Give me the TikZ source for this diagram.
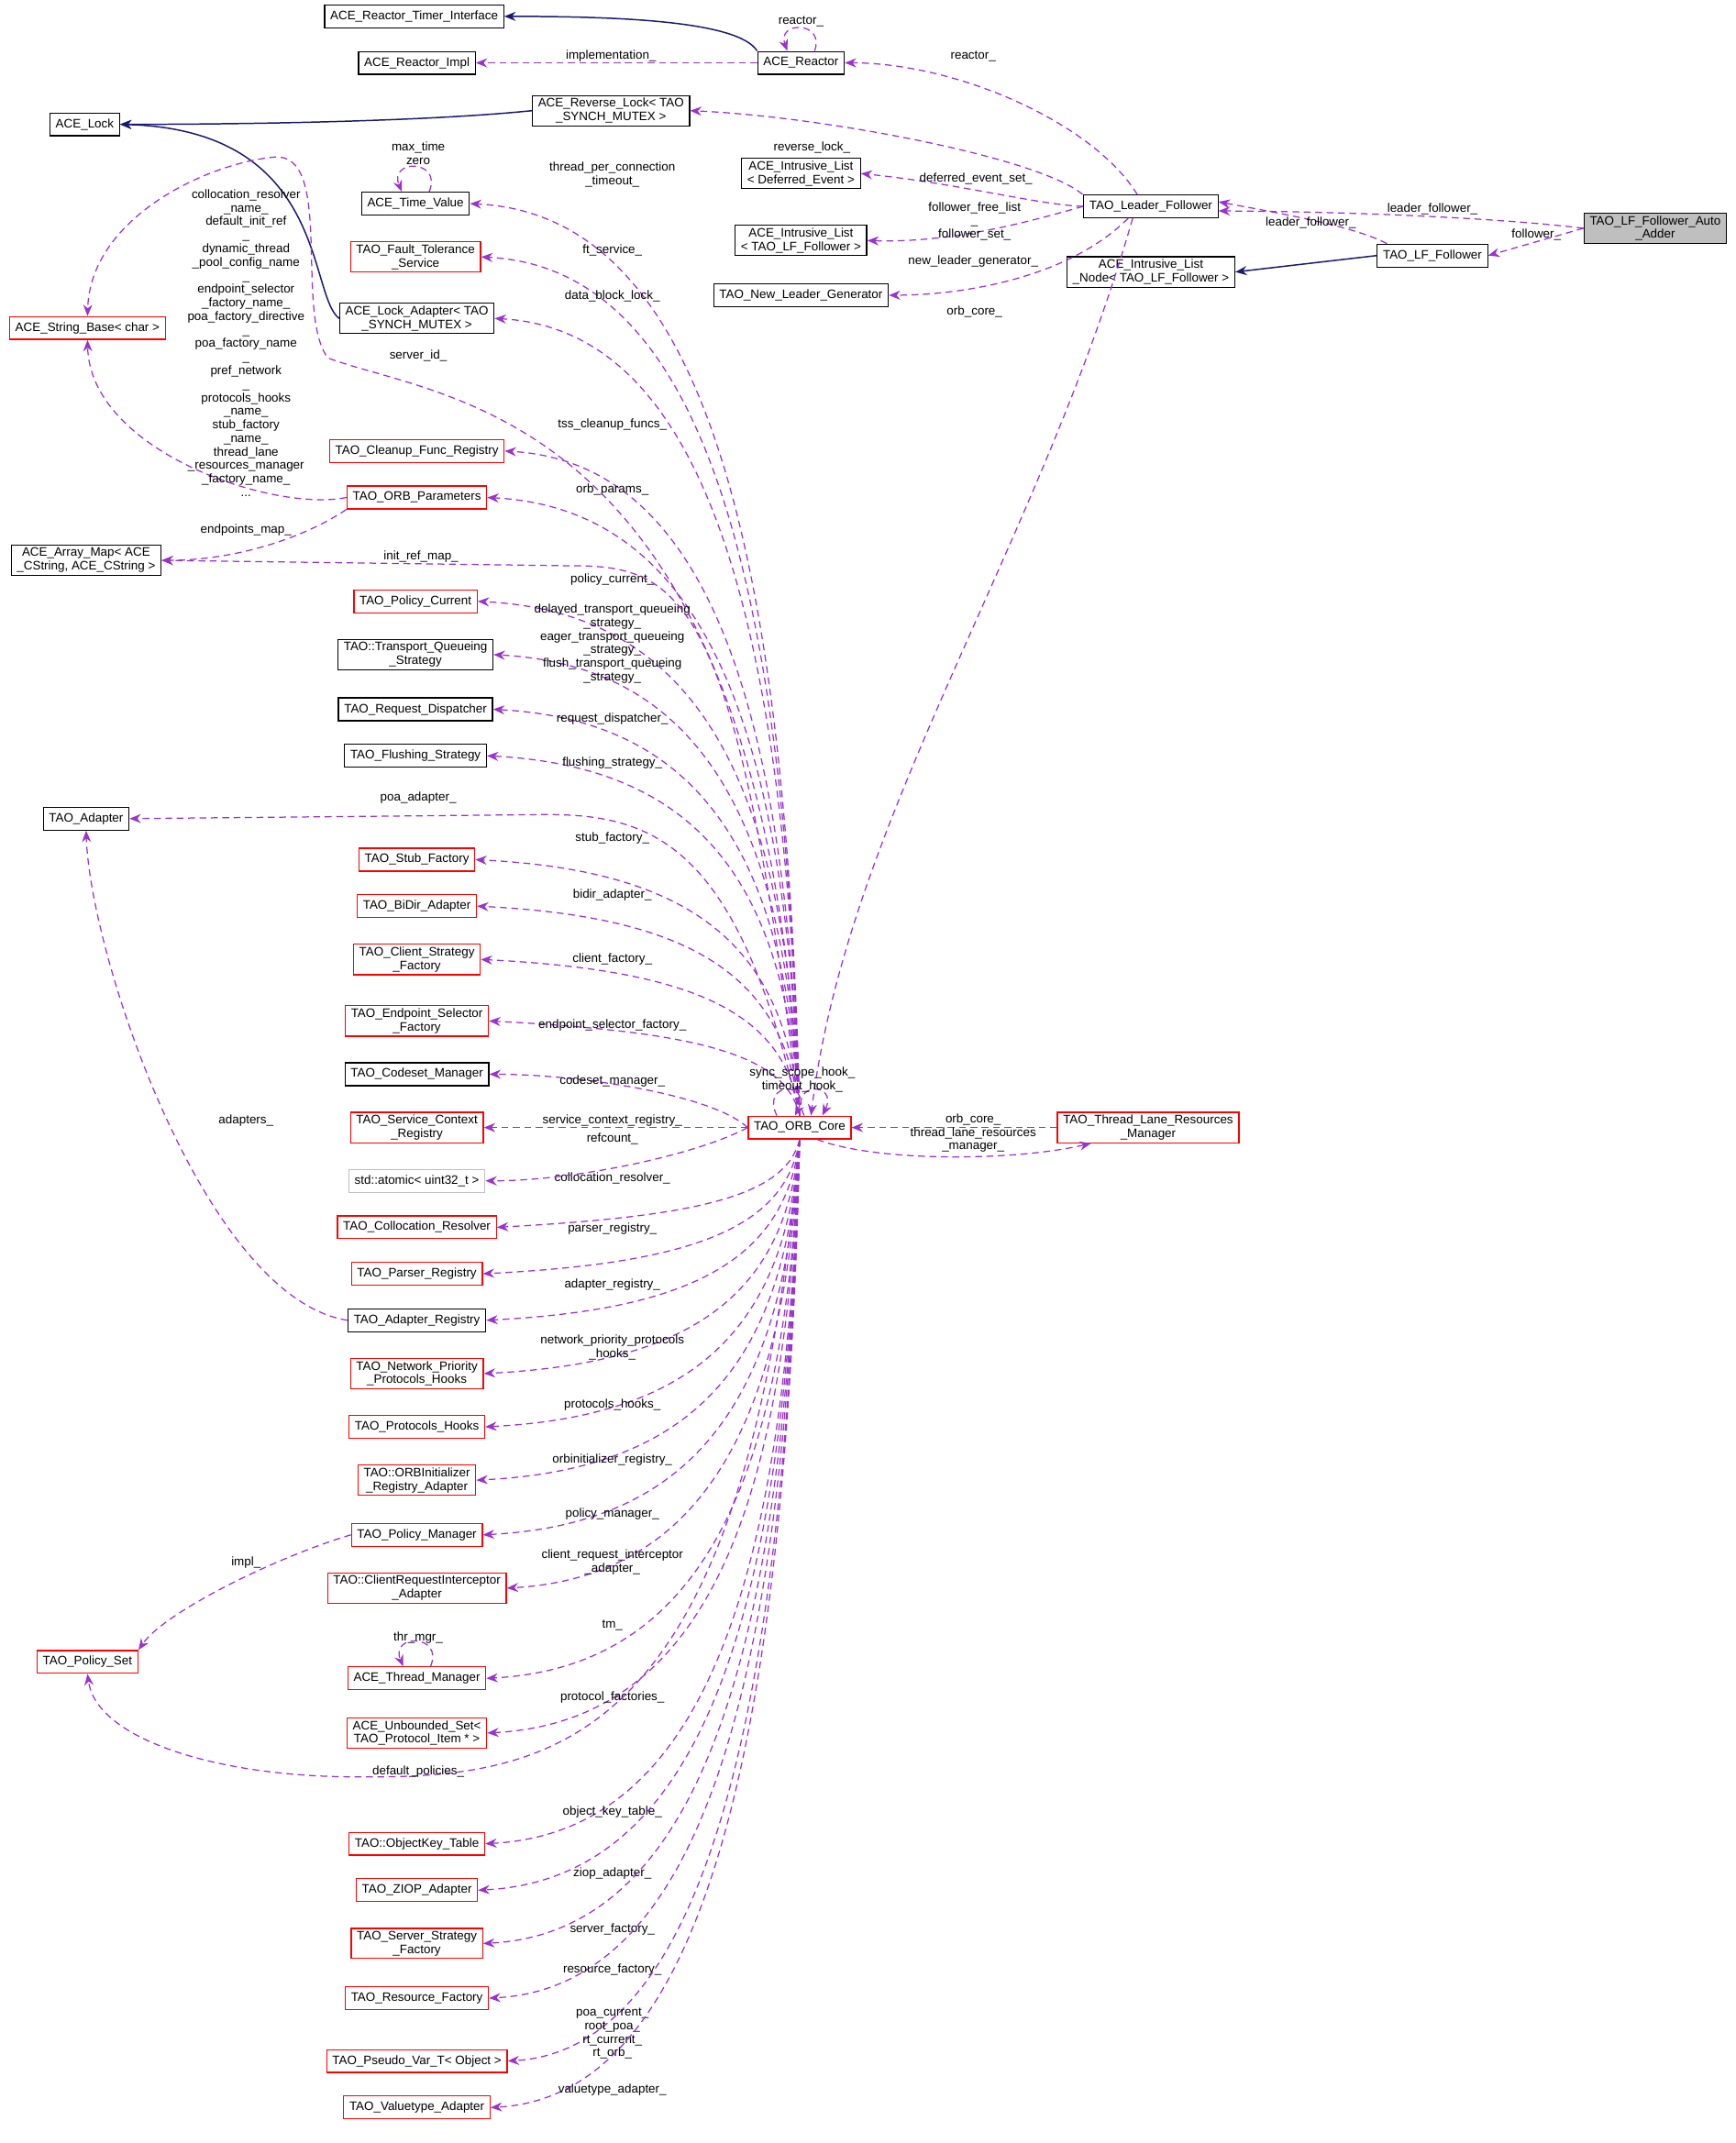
\documentclass[tikz,border=0pt]{standalone}
\usepackage{fontspec}
\setmainfont{Liberation Sans}
\usetikzlibrary{arrows.meta}
\definecolor{depcol}{HTML}{9A32CD}
\definecolor{inhcol}{HTML}{191970}
\newcommand\dfont{\fontsize{5.4}{5.95}\selectfont}
\tikzset{cls/.style={draw=black,fill=white,inner xsep=2.5pt,inner ysep=1.2pt,
		minimum height=10pt,align=center,font=\dfont,line width=0.5pt},
	redcls/.style={cls,draw=red},
	greycls/.style={cls,draw=black!25},
	dep/.style={draw=depcol,dash pattern=on 3pt off 2pt,line width=0.5pt,
		-{Stealth[length=5pt,width=4pt,fill=depcol]}},
	inh/.style={draw=inhcol,line width=0.6pt,-{Stealth[length=5pt,width=4pt]}},
	lbl/.style={font=\dfont,align=center,inner sep=0.5pt}}
\begin{document}
\catcode`\_=12
\begin{tikzpicture}[x=0.6pt,y=-0.6pt]
	\useasboundingbox (0,0) rectangle (1270,1568);
	% classes
	\node[cls] (rti) at (303,12) {ACE_Reactor_Timer_Interface};
	\node[cls] (rimpl) at (305,46) {ACE_Reactor_Impl};
	\node[cls] (reactor) at (586,46) {ACE_Reactor};
	\node[cls] (lock) at (62,91) {ACE_Lock};
	\node[cls] (rlock) at (447,81) {ACE_Reverse_Lock< TAO\\_SYNCH_MUTEX >};
	\node[cls] (tv) at (304,149) {ACE_Time_Value};
	\node[cls] (ilde) at (586,127) {ACE_Intrusive_List\\< Deferred_Event >};
	\node[cls] (illf) at (586,176) {ACE_Intrusive_List\\< TAO_LF_Follower >};
	\node[cls] (nlg) at (586,216) {TAO_New_Leader_Generator};
	\node[cls] (lf) at (842,151) {TAO_Leader_Follower};
	\node[cls,fill=black!25] (adder) at (1211,167) {TAO_LF_Follower_Auto\\_Adder};
	\node[cls] (lff) at (1048,187) {TAO_LF_Follower};
	\node[cls] (iln) at (842,199) {ACE_Intrusive_List\\_Node< TAO_LF_Follower >};
	\node[redcls] (fts) at (304,188) {TAO_Fault_Tolerance\\_Service};
	\node[cls] (lad) at (305,233) {ACE_Lock_Adapter< TAO\\_SYNCH_MUTEX >};
	\node[redcls] (strb) at (64,240) {ACE_String_Base< char >};
	\node[redcls] (cfr) at (305,330) {TAO_Cleanup_Func_Registry};
	\node[redcls] (orbp) at (305,364) {TAO_ORB_Parameters};
	\node[cls] (amap) at (63,410) {ACE_Array_Map< ACE\\_CString, ACE_CString >};
	\node[redcls] (pcur) at (304,440) {TAO_Policy_Current};
	\node[cls] (tqs) at (304,479) {TAO::Transport_Queueing\\_Strategy};
	\node[cls] (rdis) at (304,519) {TAO_Request_Dispatcher};
	\node[cls] (fls) at (304,553) {TAO_Flushing_Strategy};
	\node[cls] (adp) at (63,599) {TAO_Adapter};
	\node[redcls] (stf) at (305,629) {TAO_Stub_Factory};
	\node[redcls] (bidir) at (305,663) {TAO_BiDir_Adapter};
	\node[redcls] (csf) at (305,702) {TAO_Client_Strategy\\_Factory};
	\node[redcls] (esf) at (305,747) {TAO_Endpoint_Selector\\_Factory};
	\node[cls] (csm) at (305,786) {TAO_Codeset_Manager};
	\node[redcls] (scr) at (305,825) {TAO_Service_Context\\_Registry};
	\node[greycls] (atom) at (305,864) {std::atomic< uint32_t >};
	\node[redcls] (coll) at (305,898) {TAO_Collocation_Resolver};
	\node[redcls] (prs) at (305,932) {TAO_Parser_Registry};
	\node[cls] (areg) at (305,966) {TAO_Adapter_Registry};
	\node[redcls] (npph) at (305,1005) {TAO_Network_Priority\\_Protocols_Hooks};
	\node[redcls] (ph) at (305,1044) {TAO_Protocols_Hooks};
	\node[redcls] (oira) at (305,1083) {TAO::ORBInitializer\\_Registry_Adapter};
	\node[redcls] (pmgr) at (305,1123) {TAO_Policy_Manager};
	\node[redcls] (cria) at (305,1162) {TAO::ClientRequestInterceptor\\_Adapter};
	\node[redcls] (pset) at (64,1216) {TAO_Policy_Set};
	\node[redcls] (thm) at (305,1228) {ACE_Thread_Manager};
	\node[redcls] (uset) at (305,1268) {ACE_Unbounded_Set<\\TAO_Protocol_Item * >};
	\node[redcls] (okt) at (305,1349) {TAO::ObjectKey_Table};
	\node[redcls] (ziop) at (305,1383) {TAO_ZIOP_Adapter};
	\node[redcls] (ssf) at (305,1422) {TAO_Server_Strategy\\_Factory};
	\node[redcls] (rf) at (305,1462) {TAO_Resource_Factory};
	\node[redcls] (pvar) at (305,1508) {TAO_Pseudo_Var_T< Object >};
	\node[redcls] (vta) at (305,1542) {TAO_Valuetype_Adapter};
	\node[redcls] (orb) at (585,825) {TAO_ORB_Core};
	\node[redcls] (tlr) at (840,825) {TAO_Thread_Lane_Resources\\_Manager};
	% inheritance
	\draw[inh] (reactor.north west) .. controls (540,15) and (450,12) .. (rti.east);
	\draw[inh] (rlock.west) .. controls (300,90) and (150,91) .. (lock.east);
	\draw[inh] (lad.west) .. controls (225,215) and (240,95) .. (lock.east);
	\draw[inh] (lff.west) -- (iln.east);
	% Leader_Follower side
	\draw[dep] (reactor.west) -- (rimpl.east);
	\draw[dep] ([xshift=6pt]reactor.north) .. controls +(8,-22) and +(-8,-22) .. ([xshift=-6pt]reactor.north);
	\draw[dep] ([xshift=-6pt]lf.north) .. controls (800,90) and (700,46) .. (reactor.east);
	\draw[dep] ([xshift=-30pt]lf.north) .. controls (760,115) and (600,85) .. (rlock.east);
	\draw[dep] (lf.west) .. controls (760,150) and (700,134) .. (ilde.east);
	\draw[dep] (lf.west) .. controls (760,160) and (700,178) .. (illf.east);
	\draw[dep] ([xshift=-10pt]lf.south) .. controls (780,205) and (700,216) .. (nlg.east);
	\draw[dep] ([xshift=-8pt]lf.south) .. controls (760,400) and (620,600) .. ([xshift=5pt]orb.north);
	\draw[dep] (adder.west) .. controls (1100,160) and (1000,155) .. ([yshift=-2pt]lf.east);
	\draw[dep] (adder.west) -- (lff.east);
	\draw[dep] ([xshift=-20pt]lff.north) .. controls (990,165) and (930,155) .. ([yshift=2pt]lf.east);
	\node[lbl] (l_impl) at (447,41) {implementation_};
	\node[lbl] (l_rloop) at (586,16) {reactor_};
	\node[lbl] (l_react) at (712,41) {reactor_};
	\node[lbl] (l_rlock) at (594,108) {reverse_lock_};
	\node[lbl] (l_ilde) at (714,131) {deferred_event_set_};
	\node[lbl] (l_illf) at (713,162) {follower_free_list\\_\\follower_set_};
	\node[lbl] (l_nlg) at (712,191) {new_leader_generator_};
	\node[lbl] (l_lforb) at (713,228) {orb_core_};
	\node[lbl] (l_adlf) at (1048,153) {leader_follower_};
	\node[lbl] (l_adff) at (1124,172) {follower_};
	\node[lbl] (l_fflf) at (959,163) {leader_follower_};
	% ORB_Core uses, upper column
	\foreach \tn/\ty/\txt/\ly in {tv/149/{thread_per_connection\\_timeout_}/128,
		fts/188/{ft_service_}/183, lad/233/{data_block_lock_}/217,
		cfr/330/{tss_cleanup_funcs_}/311, orbp/364/{orb_params_}/358,
		pcur/440/{policy_current_}/424,
		tqs/479/{delayed_transport_queueing\\_strategy_\\eager_transport_queueing\\_strategy_\\flush_transport_queueing\\_strategy_}/471,
		rdis/519/{request_dispatcher_}/526, fls/553/{flushing_strategy_}/558,
		stf/629/{stub_factory_}/613, bidir/663/{bidir_adapter_}/655,
		csf/702/{client_factory_}/702, esf/747/{endpoint_selector_factory_}/750}
	{
		\draw[dep] (orb.north) .. controls (575,{\ty+0.35*(816-\ty)}) and (510,{\ty+8}) .. (\tn.east);
		\node[lbl] (l_\tn) at (448,\ly) {\txt};
	}
	% ORB_Core uses, lower column
	\foreach \tn/\ty/\txt/\ly in {coll/898/{collocation_resolver_}/862,
		prs/932/{parser_registry_}/899, areg/966/{adapter_registry_}/940,
		npph/1005/{network_priority_protocols\\_hooks_}/986, ph/1044/{protocols_hooks_}/1028,
		oira/1083/{orbinitializer_registry_}/1068, pmgr/1123/{policy_manager_}/1108,
		cria/1162/{client_request_interceptor\\_adapter_}/1143, thm/1228/{tm_}/1189,
		uset/1268/{protocol_factories_}/1242, okt/1349/{object_key_table_}/1326,
		ziop/1383/{ziop_adapter_}/1371, ssf/1422/{server_factory_}/1412,
		rf/1462/{resource_factory_}/1441,
		pvar/1508/{poa_current_\\root_poa_\\rt_current_\\rt_orb_}/1488,
		vta/1542/{valuetype_adapter_}/1529}
	{
		\draw[dep] (orb.south) .. controls (575,{\ty-0.35*(\ty-833)}) and (510,{\ty-8}) .. (\tn.east);
		\node[lbl] (l_\tn) at (448,\ly) {\txt};
	}
	% ORB_Core uses, near and long ones
	\draw[dep] (orb.west) .. controls (520,800) and (420,786) .. (csm.east);
	\draw[dep] (orb.west) -- (scr.east);
	\draw[dep] (orb.west) .. controls (510,845) and (420,864) .. (atom.east);
	\draw[dep] (orb.north) .. controls (560,300) and (330,295) .. (240,262)
		.. controls (215,230) and (245,110) .. (200,115)
		.. controls (150,120) and (66,160) .. (strb.north);
	\draw[dep] (orb.north) .. controls (540,440) and (500,414) .. (420,414) -- (amap.east);
	\draw[dep] (orb.north) .. controls (540,620) and (480,596) .. (400,596) -- (adp.east);
	\draw[dep] (orb.south) .. controls (545,1290) and (400,1302) .. (250,1300)
		.. controls (150,1298) and (70,1270) .. (pset.south);
	\draw[dep] ([xshift=-10pt]orb.north) .. controls +(-12,-25) and +(12,-25) .. ([xshift=-2pt]orb.north);
	\draw[dep] ([xshift=2pt]orb.north) .. controls +(-12,-25) and +(12,-25) .. ([xshift=10pt]orb.north);
	\draw[dep] (tlr.west) -- (orb.east);
	\draw[dep] ([xshift=-15pt]orb.south east) .. controls (640,850) and (740,850) .. ([xshift=15pt]tlr.south west);
	\node[lbl] (l_strb) at (306,260) {server_id_};
	\node[lbl] (l_amap) at (308,407) {init_ref_map_};
	\node[lbl] (l_adp) at (306,584) {poa_adapter_};
	\node[lbl] (l_csm) at (448,791) {codeset_manager_};
	\node[lbl] (l_scr) at (448,820) {service_context_registry_};
	\node[lbl] (l_atom) at (448,833) {refcount_};
	\node[lbl] (l_pset) at (306,1296) {default_policies_};
	\node[lbl] (l_oloop) at (587,790) {sync_scope_hook_\\timeout_hook_};
	\node[lbl] (l_tlrorb) at (712,819) {orb_core_};
	\node[lbl] (l_orbtlr) at (712,834) {thread_lane_resources\\_manager_};
	% other uses
	\draw[dep] ([xshift=6pt]tv.north) .. controls +(10,-24) and +(-10,-24) .. ([xshift=-6pt]tv.north);
	\draw[dep] ([xshift=6pt]thm.north) .. controls +(10,-24) and +(-10,-24) .. ([xshift=-6pt]thm.north);
	\draw[dep] (orbp.west) .. controls (200,375) and (66,330) .. (strb.south);
	\draw[dep] (orbp.south west) .. controls (220,395) and (170,410) .. (amap.east);
	\draw[dep] (areg.west) .. controls (150,950) and (66,700) .. (adp.south);
	\draw[dep] (pmgr.west) .. controls (200,1140) and (120,1180) .. (pset.north east);
	\node[lbl] (l_tvloop) at (306,112) {max_time\\zero};
	\node[lbl] (l_thmloop) at (306,1198) {thr_mgr_};
	\node[lbl] (l_orbpstr) at (180,251) {collocation_resolver\\_name_\\default_init_ref\\_\\dynamic_thread\\_pool_config_name\\_\\endpoint_selector\\_factory_name_\\poa_factory_directive\\_\\poa_factory_name\\_\\pref_network\\_\\protocols_hooks\\_name_\\stub_factory\\_name_\\thread_lane\\_resources_manager\\_factory_name_\\...};
	\node[lbl] (l_orbpam) at (180,388) {endpoints_map_};
	\node[lbl] (l_areg) at (180,820) {adapters_};
	\node[lbl] (l_pmgr) at (180,1143) {impl_};
\end{tikzpicture}
\end{document}
